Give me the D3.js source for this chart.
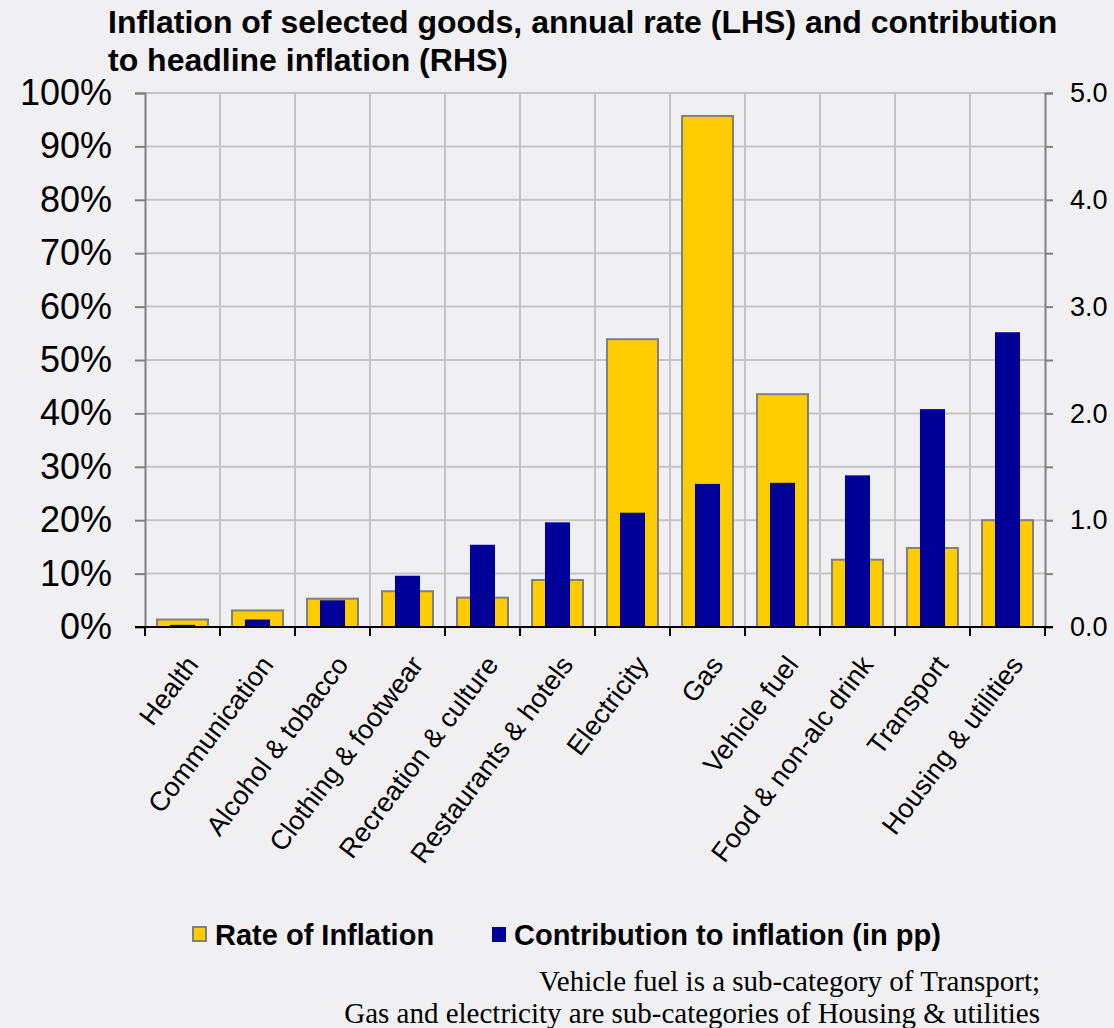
<!DOCTYPE html>
<html>
<head>
<meta charset="utf-8">
<script src="https://cdn.jsdelivr.net/npm/d3@7"></script>
<style>
  body { margin: 0; background: #f0f0f2; }
  svg { display: block; font-family: "Liberation Sans", Arial, sans-serif; }
</style>
</head>
<body>
<svg></svg>
<script>
let categories = ['Health', 'Communication', 'Alcohol & tobacco', 'Clothing & footwear',
    'Recreation & culture', 'Restaurants & hotels', 'Electricity', 'Gas', 'Vehicle fuel',
    'Food & non-alc drink', 'Transport', 'Housing & utilities']
let rate = [1.4, 3.1, 5.3, 6.7, 5.5, 8.8, 53.9, 95.7, 43.6, 12.6, 14.8, 20.0]
let contribution = [0.02, 0.07, 0.25, 0.48, 0.77, 0.98, 1.07, 1.34, 1.35, 1.42, 2.04, 2.76]
let leftTicks = [0, 10, 20, 30, 40, 50, 60, 70, 80, 90, 100]
let rightTicks = [0, 0.5, 1, 1.5, 2, 2.5, 3, 3.5, 4, 4.5, 5]
let legendNames = ['Rate of Inflation', 'Contribution to inflation (in pp)']

let width = 1114
let height = 1028
let plotLeft = 145, plotRight = 1045, plotTop = 93, plotBottom = 627

let svg = d3.select('svg').attr('width', width).attr('height', height)

svg.append('rect').attr('width', width).attr('height', height).attr('fill', '#f0f0f2')

let xScale = d3.scaleBand().domain(categories).range([plotLeft, plotRight])
let yLeft = d3.scaleLinear().domain([0, 100]).range([plotBottom, plotTop])
let yRight = d3.scaleLinear().domain([0, 5]).range([plotBottom, plotTop])

// gridlines
svg.append('g').selectAll('line')
   .data(leftTicks.filter(d => d > 0))
   .enter().append('line')
   .attr('x1', plotLeft).attr('x2', plotRight)
   .attr('y1', d => yLeft(d)).attr('y2', d => yLeft(d))
   .attr('stroke', '#c4c4c6').attr('stroke-width', 2)

svg.append('g').selectAll('line')
   .data(categories.slice(1))
   .enter().append('line')
   .attr('x1', d => xScale(d)).attr('x2', d => xScale(d))
   .attr('y1', plotTop).attr('y2', plotBottom)
   .attr('stroke', '#c4c4c6').attr('stroke-width', 2)

// bars
let bw = xScale.bandwidth()
svg.append('g').selectAll('rect')
   .data(categories)
   .enter().append('rect')
   .attr('x', d => xScale(d) + bw * 0.16)
   .attr('width', bw * 0.68)
   .attr('y', (d, i) => yLeft(rate[i]))
   .attr('height', (d, i) => plotBottom - yLeft(rate[i]))
   .attr('fill', '#ffcc00')
   .attr('stroke', '#808080')
   .attr('stroke-width', 2)

svg.append('g').selectAll('rect')
   .data(categories)
   .enter().append('rect')
   .attr('x', d => xScale(d) + bw * 0.333)
   .attr('width', bw * 0.334)
   .attr('y', (d, i) => yRight(contribution[i]))
   .attr('height', (d, i) => plotBottom - yRight(contribution[i]))
   .attr('fill', '#000099')

// left axis
let yAxisL = d3.axisLeft(yLeft).tickValues(leftTicks).tickFormat(d => d + '%')
               .tickSize(10).tickPadding(23)
let gL = svg.append('g').attr('transform', 'translate(' + plotLeft + ',0)').call(yAxisL)
gL.select('.domain').attr('stroke', '#808080').attr('stroke-width', 2)
gL.selectAll('.tick line').attr('stroke', '#808080').attr('stroke-width', 2)
gL.selectAll('text').attr('font-size', 36).attr('fill', '#000')
  .attr('font-family', '"Liberation Sans", Arial, sans-serif')

// right axis
let yAxisR = d3.axisRight(yRight).tickValues(rightTicks)
               .tickFormat(d => Number.isInteger(d) ? d.toFixed(1) : '')
               .tickSize(8).tickPadding(17)
let gR = svg.append('g').attr('transform', 'translate(' + plotRight + ',0)').call(yAxisR)
gR.select('.domain').attr('stroke', '#808080').attr('stroke-width', 2)
gR.selectAll('.tick line').attr('stroke', '#808080').attr('stroke-width', 2)
gR.selectAll('text').attr('font-size', 27).attr('fill', '#000')
  .attr('font-family', '"Liberation Sans", Arial, sans-serif')

// bottom axis
svg.append('line').attr('x1', plotLeft - 10).attr('x2', plotRight + 8)
   .attr('y1', plotBottom).attr('y2', plotBottom)
   .attr('stroke', '#000').attr('stroke-width', 2)
svg.append('g').selectAll('line')
   .data(categories.map(d => xScale(d)).concat([plotRight]))
   .enter().append('line')
   .attr('x1', d => d).attr('x2', d => d)
   .attr('y1', plotBottom).attr('y2', plotBottom + 9)
   .attr('stroke', '#000').attr('stroke-width', 2)

svg.append('g').selectAll('text')
   .data(categories)
   .enter().append('text')
   .attr('transform', d => 'translate(' + (xScale(d) + bw / 2 + 17) + ',' + (plotBottom + 38) + ') rotate(-53)')
   .attr('text-anchor', 'end')
   .attr('font-size', 27)
   .text(d => d)

// title
let title = svg.append('text').attr('x', 108).attr('font-size', 32).attr('font-weight', 'bold')
title.append('tspan').attr('x', 108).attr('y', 33)
     .text('Inflation of selected goods, annual rate (LHS) and contribution')
title.append('tspan').attr('x', 108).attr('y', 71)
     .text('to headline inflation (RHS)')

// legend
let legend = svg.append('g')
legend.append('rect').attr('x', 193).attr('y', 927).attr('width', 13).attr('height', 14)
      .attr('fill', '#ffcc00').attr('stroke', '#808080').attr('stroke-width', 2)
legend.append('text').attr('x', 215).attr('y', 945).attr('font-size', 29).attr('font-weight', 'bold')
      .text(legendNames[0])
legend.append('rect').attr('x', 492).attr('y', 927).attr('width', 14).attr('height', 15)
      .attr('fill', '#000099')
legend.append('text').attr('x', 514).attr('y', 945).attr('font-size', 29).attr('font-weight', 'bold')
      .text(legendNames[1])

// footnote
let note = svg.append('text').attr('text-anchor', 'end').attr('font-size', 29)
              .attr('font-family', '"Liberation Serif", "Times New Roman", serif')
note.append('tspan').attr('x', 1040).attr('y', 991).text('Vehicle fuel is a sub-category of Transport;')
note.append('tspan').attr('x', 1040).attr('y', 1023).text('Gas and electricity are sub-categories of Housing & utilities')
</script>
</body>
</html>
